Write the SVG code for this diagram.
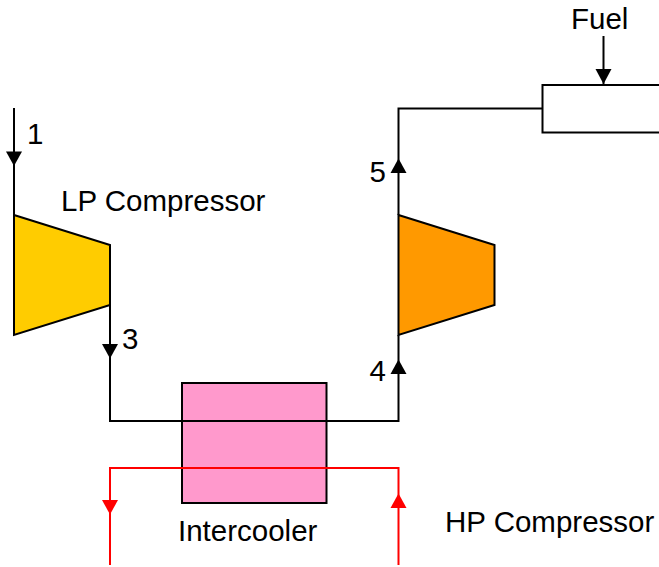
<svg xmlns="http://www.w3.org/2000/svg" width="659" height="567" viewBox="0 0 659 567">
<style>
text{font-family:"Liberation Sans",Arial,sans-serif;font-size:29.500px;fill:#000}
.s{stroke:#000;stroke-width:2;fill:none}
.r{stroke:#f00;stroke-width:2;fill:none}
.n{stroke:#000;stroke-width:2;stroke-linejoin:miter}
.ah{fill:#000}.ar{fill:#f00}
</style>
<rect width="659" height="567" fill="#fff"/>
<g id="lp-compressor"><polygon class="n" fill="#ffcc00" points="14,215 110,245 110,305 14,335"/><text x="61" y="211">LP Compressor</text></g>
<g id="hp-compressor"><polygon class="n" fill="#ff9900" points="398.500,215 494.500,245 494.500,305 398.500,335"/><text x="445" y="532">HP Compressor</text></g>
<g id="intercooler"><rect class="n" fill="#ff99cc" x="182" y="383" width="144.500" height="120"/><text x="178" y="541">Intercooler</text></g>
<g id="combustor"><path class="s" d="M659,85H542.500V132.500H659"/></g>
<g id="connectors">
<path class="s" d="M14,108V215"/>
<path class="s" d="M110,305V421H398.500V335"/>
<path class="s" d="M398.500,215V108.500H542.500"/>
<path class="s" d="M603.500,36V85"/>
<path class="r" d="M110,565V468H398.500V565"/>
<polygon class="ah" points="6,151.500 22,151.500 14,166"/>
<polygon class="ah" points="102,344 118,344 110,358.500"/>
<polygon class="ah" points="390.500,374 406.500,374 398.500,359.500"/>
<polygon class="ah" points="390.500,173 406.500,173 398.500,158.500"/>
<polygon class="ah" points="595.500,69 611.500,69 603.500,84"/>
<polygon class="ar" points="102,500 118,500 110,514.500"/>
<polygon class="ar" points="390.500,508 406.500,508 398.500,493.500"/>
</g>
<g id="labels">
<text x="27" y="144">1</text>
<text x="122" y="349">3</text>
<text x="369.500" y="381">4</text>
<text x="369.500" y="182">5</text>
<text x="571" y="29">Fuel</text>
</g>
</svg>
